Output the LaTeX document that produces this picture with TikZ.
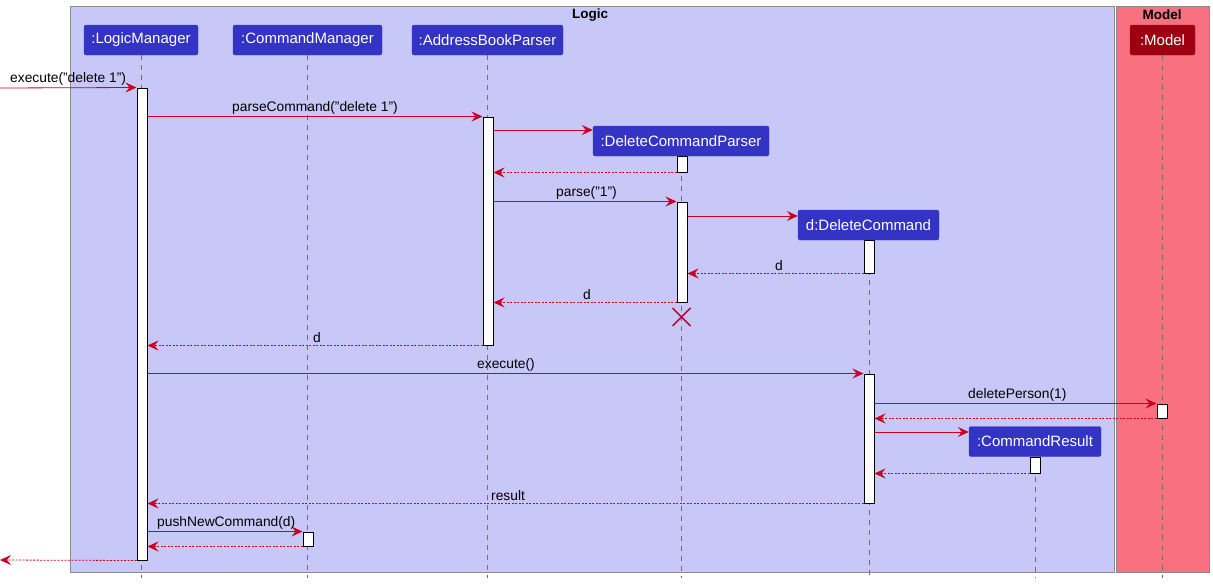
\documentclass[tikz,border=0pt]{standalone}
\usepackage{fontspec}
\setmainfont{Liberation Sans}
\usetikzlibrary{arrows.meta,fit,calc}
\definecolor{logicbg}{HTML}{C8C8F8}
\definecolor{modelbg}{HTML}{F97181}
\definecolor{partblue}{HTML}{3333C4}
\definecolor{partred}{HTML}{9D0011}
\definecolor{msgred}{HTML}{CC0022}
\definecolor{xred}{HTML}{B0103A}
\definecolor{lifegray}{HTML}{707070}
\definecolor{boxgray}{HTML}{8A8A8A}
\begin{document}
\begin{tikzpicture}[x=1pt,y=-1pt,
  part/.style={fill=partblue, draw=partblue!80!gray, rounded corners=2pt, text=white,
    font=\fontsize{15}{17}\selectfont, inner sep=0pt, minimum height=30pt},
  actbar/.style={draw=black, fill=white, line width=1pt, inner sep=0pt},
  msg/.style={draw=msgred, line width=0.8pt, -{Stealth[length=11pt,width=10pt,inset=4pt]}},
  ret/.style={msg, dash pattern=on 2pt off 1.5pt},
  lifeline/.style={draw=lifegray, dash pattern=on 5pt off 5pt, line width=0.8pt},
  lbl/.style={font=\fontsize{13.8}{15}\selectfont, inner sep=2pt, anchor=south west},
  grp/.style={draw=boxgray, line width=1pt},
  grptitle/.style={font=\bfseries\fontsize{13.5}{15}\selectfont, inner sep=0pt}
]
\useasboundingbox (0,0) rectangle (1213,584);
% group boxes
\draw[grp, fill=logicbg] (70,6) rectangle (1114,572);
\draw[grp, fill=modelbg] (1116,6) rectangle (1209,572);
\node[grptitle] (tlogic) at (590,15) {Logic};
\node[grptitle] (tmodel) at (1162,15) {Model};
% participants
\node[part, minimum width=114pt] (lm) at (141,40) {:LogicManager};
\node[part, minimum width=149pt] (cm) at (307.5,40) {:CommandManager};
\node[part, minimum width=151pt] (abp) at (487.5,40) {:AddressBookParser};
\node[part, minimum width=65pt, fill=partred, draw=partred!80!gray] (mdl) at (1162.5,40) {:Model};
\node[part, minimum width=176pt] (dcp) at (681,141) {:DeleteCommandParser};
\node[part, minimum width=141pt] (dc) at (868.5,225) {d:DeleteCommand};
\node[part, minimum width=132pt] (cr) at (1035,441.5) {:CommandResult};
% lifelines
\coordinate (lmend) at (141.5,578);
\coordinate (cmend) at (307.5,578);
\coordinate (abpend) at (487.5,578);
\coordinate (mdlend) at (1162.5,578);
\coordinate (dcpend) at (681.5,578);
\coordinate (dcend) at (869,578);
\coordinate (crend) at (1035.5,578);
\draw[lifeline] (lm.south -| lmend) -- (lmend);
\draw[lifeline] (cm.south -| cmend) -- (cmend);
\draw[lifeline] (abp.south -| abpend) -- (abpend);
\draw[lifeline] (mdl.south -| mdlend) -- (mdlend);
\draw[lifeline] (dcp.south -| dcpend) -- (dcpend);
\draw[lifeline] (dc.south -| dcend) -- (dcend);
\draw[lifeline] (cr.south -| crend) -- (crend);
% activation bars
\node[actbar, fit={(137,88)(147,560)}] (lmb) {};
\node[actbar, fit={(483,117)(493,345)}] (abpb) {};
\node[actbar, fit={(677,156)(687,172)}] (dcpb1) {};
\node[actbar, fit={(677,202)(687,302)}] (dcpb2) {};
\node[actbar, fit={(864,240)(874,273)}] (dcb1) {};
\node[actbar, fit={(864,374)(874,503)}] (dcb2) {};
\node[actbar, fit={(1157,404)(1167,418)}] (mb) {};
\node[actbar, fit={(1030,457)(1040,473)}] (crb) {};
\node[actbar, fit={(303,532)(313,546)}] (cmb) {};
% messages
\coordinate (in) at (0,88);
\coordinate (out) at (0,560);
\draw[msg] (in) -- (lmb.north west);
\node[lbl] (l1) at (8,88) {execute("delete 1")};
\draw[msg] (lmb.east |- abpb.north) -- (abpb.north west);
\node[lbl] (l2) at (230,117) {parseCommand("delete 1")};
\draw[msg] (abpb.east |- 0,130) -- (dcp.west |- 0,130);
\draw[ret] (dcpb1.south west) -- (abpb.east |- dcpb1.south);
\draw[msg] (abpb.east |- dcpb2.north) -- (dcpb2.north west);
\node[lbl] (l5) at (554,202) {parse("1")};
\draw[msg] (dcpb2.east |- 0,216) -- (dc.west |- 0,216);
\draw[ret] (dcb1.south west) -- (dcpb2.east |- dcb1.south);
\node[lbl] (l7) at (773,273) {d};
\draw[ret] (dcpb2.south west) -- (abpb.east |- dcpb2.south);
\node[lbl] (l8) at (581,302) {d};
\draw[ret] (abpb.south west) -- (lmb.east |- abpb.south);
\node[lbl] (l9) at (311,345) {d};
\draw[msg] (lmb.east |- dcb2.north) -- (dcb2.north west);
\node[lbl] (l10) at (475,374) {execute()};
\draw[msg] (dcb2.east |- mb.north) -- (mb.north west);
\node[lbl] (l11) at (966,404) {deletePerson(1)};
\draw[ret] (mb.south west) -- (dcb2.east |- mb.south);
\draw[msg] (dcb2.east |- 0,432) -- (cr.west |- 0,432);
\draw[ret] (crb.south west) -- (dcb2.east |- crb.south);
\draw[ret] (dcb2.south west) -- (lmb.east |- dcb2.south);
\node[lbl] (l15) at (489,503) {result};
\draw[msg] (lmb.east |- cmb.north) -- (cmb.north west);
\node[lbl] (l16) at (155,532) {pushNewCommand(d)};
\draw[ret] (cmb.south west) -- (lmb.east |- cmb.south);
\draw[ret] (lmb.south west) -- (out);
% destroy mark
\coordinate (xc) at (681.5,317);
\draw[xred, line width=1.5pt] ($(xc)+(-9,-9)$) -- ($(xc)+(9,9)$) ($(xc)+(-9,9)$) -- ($(xc)+(9,-9)$);
\end{tikzpicture}
\end{document}
